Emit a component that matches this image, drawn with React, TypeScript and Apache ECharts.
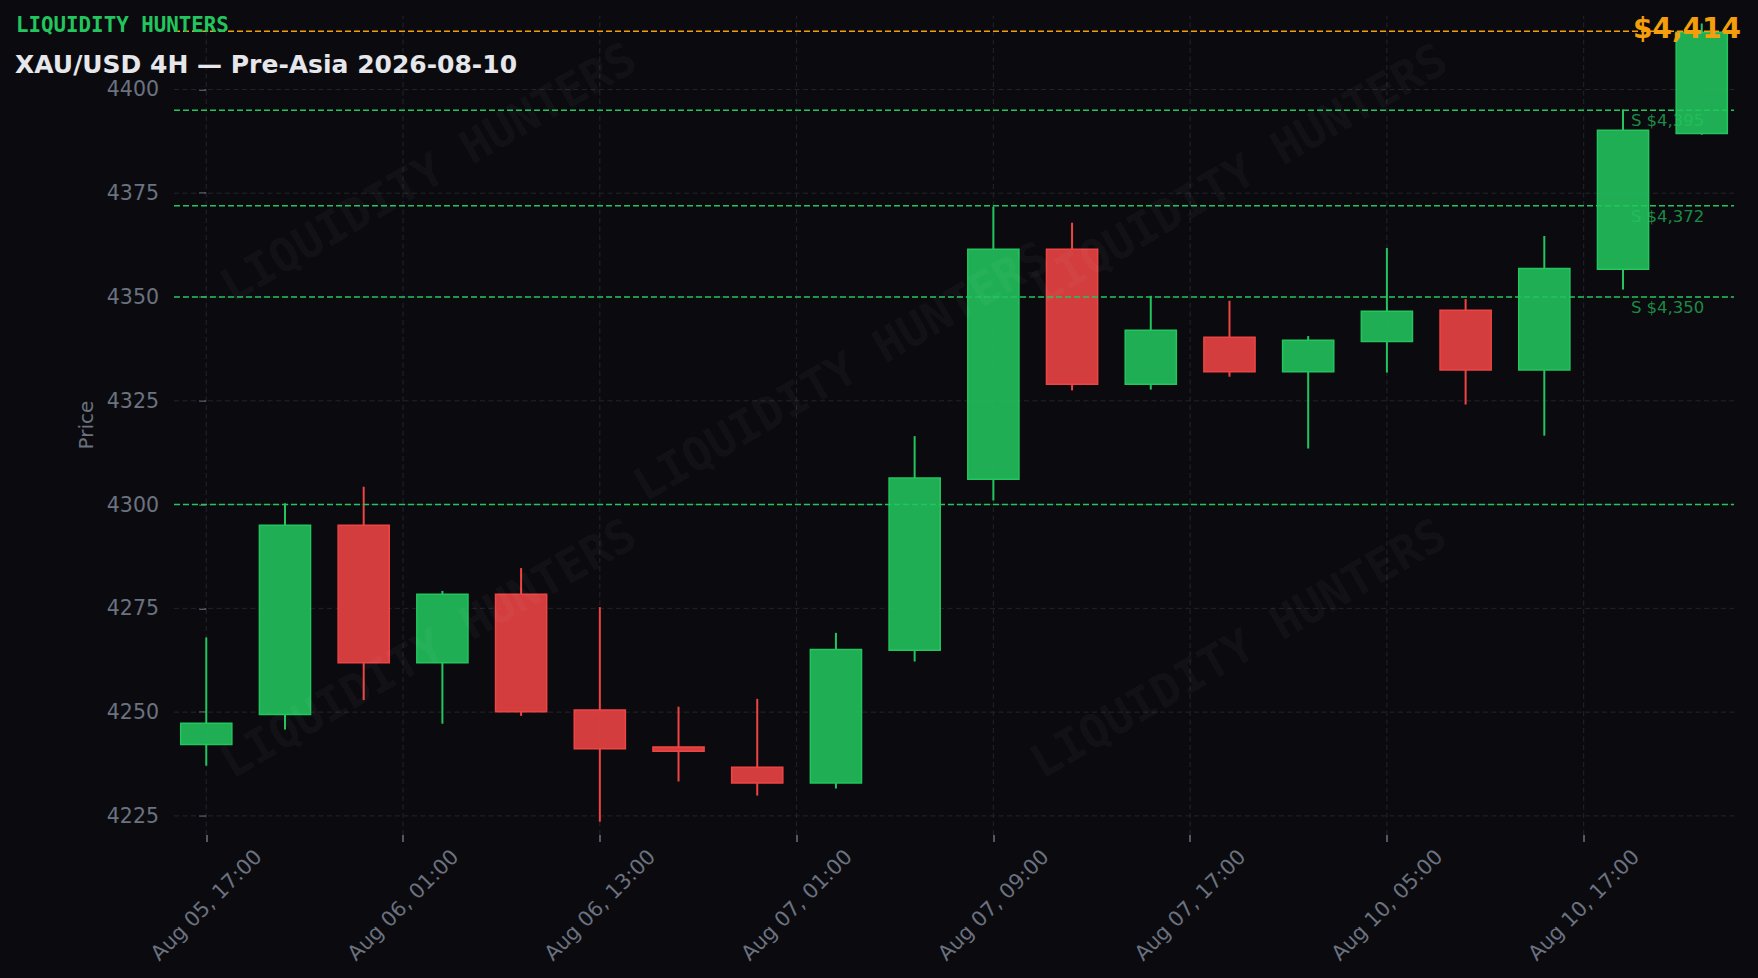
import React, { useEffect, useRef } from "react";
import * as echarts from "echarts";

// ---- data ----
const candleOpen = [4242.2, 4249.4, 4295.0, 4261.9, 4278.4, 4250.5, 4241.6, 4236.7, 4232.9, 4264.9, 4306.1, 4361.5, 4329.0, 4340.3, 4332.0, 4339.3, 4346.8, 4332.4, 4356.7, 4389.4];
const candleClose = [4247.3, 4295.0, 4261.9, 4278.4, 4250.1, 4241.2, 4240.6, 4232.9, 4265.1, 4306.4, 4361.5, 4329.0, 4342.0, 4332.0, 4339.6, 4346.6, 4332.4, 4356.9, 4390.2, 4413.8];
const candleLow = [4237.1, 4245.8, 4252.9, 4247.2, 4249.1, 4223.6, 4233.3, 4229.9, 4231.6, 4262.2, 4301.0, 4327.5, 4327.7, 4330.8, 4313.5, 4331.8, 4324.1, 4316.6, 4351.8, 4389.1];
const candleHigh = [4268.0, 4300.3, 4304.3, 4279.2, 4284.7, 4275.3, 4251.3, 4253.2, 4269.1, 4316.5, 4371.8, 4367.9, 4350.3, 4349.1, 4340.6, 4361.8, 4349.5, 4364.7, 4395.2, 4415.9];

const xTickPositions = [0, 2.5, 5, 7.5, 10, 12.5, 15, 17.5];
const xTickLabels = [
  "Aug 05, 17:00",
  "Aug 06, 01:00",
  "Aug 06, 13:00",
  "Aug 07, 01:00",
  "Aug 07, 09:00",
  "Aug 07, 17:00",
  "Aug 10, 05:00",
  "Aug 10, 17:00",
];
const yTickValues = [4225, 4250, 4275, 4300, 4325, 4350, 4375, 4400];

const supportLevels = [4395, 4372, 4350];
const keyLevels = [4300];
const lastPrice = 4414;

const brandText = "LIQUIDITY HUNTERS";
const titleText = "XAU/USD 4H — Pre-Asia 2026-08-10";

// ---- layout / style ----
const X_MIN = -0.41;
const X_MAX = 19.41;
const Y_MIN = 4220.4;
const Y_MAX = 4417.7;
const BODY_WIDTH = 0.65;
const LABEL_X = 18.1;

const BG = "#0b0b0f";
const GREEN = "#22c55e";
const RED = "#ef4444";
const ORANGE = "#f59e0b";
const GRID = "#23242c";
const AXIS_TEXT = "#6b7280";
const SANS = "'DejaVu Sans', sans-serif";
const MONO = "'DejaVu Sans Mono', monospace";

const watermarkSpots = [
  [428, 172],
  [841, 371],
  [1239, 173],
  [428, 648],
  [1238, 648],
];

function fmtPrice(v: number) {
  return "$" + Math.round(v).toLocaleString("en-US");
}

export default function App() {
  const ref = useRef<HTMLDivElement>(null);

  useEffect(() => {
    if (!ref.current) return;
    const chart = echarts.init(ref.current, null, { renderer: "svg" });

    const candleData = candleOpen.map((o, i) => [i, o, candleClose[i], candleLow[i], candleHigh[i]]);

    const hLine = (value: number, color: string, dash: number[], width: number, api: any) => {
      const a = api.coord([X_MIN, value]);
      const b = api.coord([X_MAX, value]);
      return {
        type: "line",
        shape: { x1: a[0], y1: a[1], x2: b[0], y2: b[1] },
        style: { stroke: color, lineWidth: width, lineDash: dash },
        silent: true,
      };
    };

    const option: any = {
      animation: false,
      backgroundColor: BG,
      grid: { left: 174, right: 24, top: 16, bottom: 143, containLabel: false, outerBoundsMode: "none" },
      xAxis: {
        type: "value",
        min: X_MIN,
        max: X_MAX,
        axisLine: { show: false },
        axisTick: {
          show: true,
          customValues: xTickPositions,
          length: 7,
          lineStyle: { color: AXIS_TEXT, width: 1.5 },
        },
        axisLabel: {
          customValues: xTickPositions,
          formatter: (v: number) => {
            const idx = xTickPositions.findIndex((p) => Math.abs(p - v) < 1e-6);
            return idx >= 0 ? xTickLabels[idx] : "";
          },
          rotate: 45,
          align: "center",
          verticalAlign: "middle",
          margin: 70,
          color: AXIS_TEXT,
          fontSize: 20.8,
          fontFamily: SANS,
        },
        splitLine: { show: false },
      },
      yAxis: {
        type: "value",
        min: Y_MIN,
        max: Y_MAX,
        axisLine: { show: false },
        axisTick: {
          show: true,
          customValues: yTickValues,
          length: 7,
          lineStyle: { color: AXIS_TEXT, width: 1.5 },
        },
        axisLabel: {
          customValues: yTickValues,
          formatter: (v: number) => String(Math.round(v)),
          margin: 15,
          color: AXIS_TEXT,
          fontSize: 20.5,
          fontFamily: SANS,
        },
        splitLine: { show: false },
      },
      series: [
        {
          name: "hgrid",
          type: "custom",
          z: 1,
          silent: true,
          clip: false,
          data: yTickValues.map((v) => [0, v]),
          encode: { x: 0, y: 1 },
          renderItem: (_p: any, api: any) => hLine(api.value(1), GRID, [5, 3.5], 1, api),
        },
        {
          name: "vgrid",
          type: "custom",
          z: 1,
          silent: true,
          clip: false,
          data: xTickPositions.map((t) => [t, Y_MIN]),
          encode: { x: 0, y: 1 },
          renderItem: (_p: any, api: any) => {
            const t = api.value(0);
            const a = api.coord([t, Y_MIN]);
            const b = api.coord([t, Y_MAX]);
            return {
              type: "line",
              shape: { x1: a[0], y1: a[1], x2: b[0], y2: b[1] },
              style: { stroke: GRID, lineWidth: 1, lineDash: [5, 3.5] },
              silent: true,
            };
          },
        },
        {
          name: "candles",
          type: "custom",
          z: 3,
          silent: true,
          clip: false,
          data: candleData,
          encode: { x: 0, y: [1, 2, 3, 4] },
          renderItem: (_p: any, api: any) => {
            const x = api.value(0);
            const o = api.value(1);
            const c = api.value(2);
            const l = api.value(3);
            const h = api.value(4);
            const up = c >= o;
            const col = up ? GREEN : RED;
            const fill = up ? "rgba(34,197,94,0.88)" : "rgba(239,68,68,0.88)";
            const pH = api.coord([x, h]);
            const pL = api.coord([x, l]);
            const pO = api.coord([x, o]);
            const pC = api.coord([x, c]);
            const w = api.size([BODY_WIDTH, 0])[0];
            const top = Math.min(pO[1], pC[1]);
            const bot = Math.max(pO[1], pC[1]);
            return {
              type: "group",
              children: [
                {
                  type: "line",
                  shape: { x1: pH[0], y1: pH[1], x2: pH[0], y2: top },
                  style: { stroke: col, lineWidth: 2 },
                },
                {
                  type: "line",
                  shape: { x1: pL[0], y1: bot, x2: pL[0], y2: pL[1] },
                  style: { stroke: col, lineWidth: 2 },
                },
                {
                  type: "rect",
                  shape: { x: pO[0] - w / 2, y: top, width: w, height: Math.max(bot - top, 1) },
                  style: { fill, stroke: col, lineWidth: 1.5 },
                },
              ],
            };
          },
        },
        {
          name: "keyLevels",
          type: "custom",
          z: 5,
          silent: true,
          clip: false,
          data: keyLevels.map((v) => [0, v]),
          encode: { x: 0, y: 1 },
          renderItem: (_p: any, api: any) => hLine(api.value(1), GREEN, [6, 3], 1.5, api),
        },
        {
          name: "supports",
          type: "custom",
          z: 5,
          silent: true,
          clip: false,
          data: supportLevels.map((v) => [0, v]),
          encode: { x: 0, y: 1 },
          renderItem: (_p: any, api: any) => {
            const v = api.value(1);
            const p = api.coord([LABEL_X, v]);
            return {
              type: "group",
              children: [
                hLine(v, GREEN, [6, 3], 1.5, api),
                {
                  type: "text",
                  x: p[0],
                  y: p[1] + 2,
                  style: {
                    text: "S " + fmtPrice(v),
                    fill: "rgba(34,197,94,0.7)",
                    fontSize: 16.5,
                    fontFamily: SANS,
                    align: "left",
                    verticalAlign: "top",
                  },
                },
              ],
            };
          },
        },
        {
          name: "lastPrice",
          type: "custom",
          z: 5,
          silent: true,
          clip: false,
          data: [[0, lastPrice]],
          encode: { x: 0, y: 1 },
          renderItem: (_p: any, api: any) => hLine(api.value(1), ORANGE, [6, 3], 1.5, api),
        },
      ],
      graphic: [
        ...watermarkSpots.map(([x, y]) => ({
          type: "text",
          x,
          y,
          z: 50,
          rotation: (30 * Math.PI) / 180,
          silent: true,
          style: {
            text: brandText,
            fill: "rgba(255,255,255,0.045)",
            fontSize: 46,
            fontWeight: "bold",
            fontFamily: MONO,
            align: "center",
            verticalAlign: "middle",
          },
        })),
        {
          type: "text",
          x: 16,
          y: 25,
          z: 60,
          style: {
            text: brandText,
            fill: GREEN,
            fontSize: 20.8,
            fontWeight: "bold",
            fontFamily: MONO,
            align: "left",
            verticalAlign: "middle",
          },
        },
        {
          type: "text",
          x: 15,
          y: 64,
          z: 60,
          style: {
            text: titleText,
            fill: "#e5e7eb",
            fontSize: 25,
            fontWeight: "bold",
            fontFamily: SANS,
            align: "left",
            verticalAlign: "middle",
          },
        },
        {
          type: "text",
          x: 1741,
          y: 28,
          z: 60,
          style: {
            text: fmtPrice(lastPrice),
            fill: ORANGE,
            fontSize: 28,
            fontWeight: "bold",
            fontFamily: SANS,
            align: "right",
            verticalAlign: "middle",
          },
        },
        {
          type: "text",
          x: 86,
          y: 425,
          z: 60,
          rotation: Math.PI / 2,
          style: {
            text: "Price",
            fill: AXIS_TEXT,
            fontSize: 20,
            fontFamily: SANS,
            align: "center",
            verticalAlign: "middle",
          },
        },
      ],
    };

    chart.setOption(option);
    return () => chart.dispose();
  }, []);

  return (
    <div
      ref={ref}
      style={{ position: "absolute", left: 0, top: 0, width: 1758, height: 978, background: BG }}
    />
  );
}
